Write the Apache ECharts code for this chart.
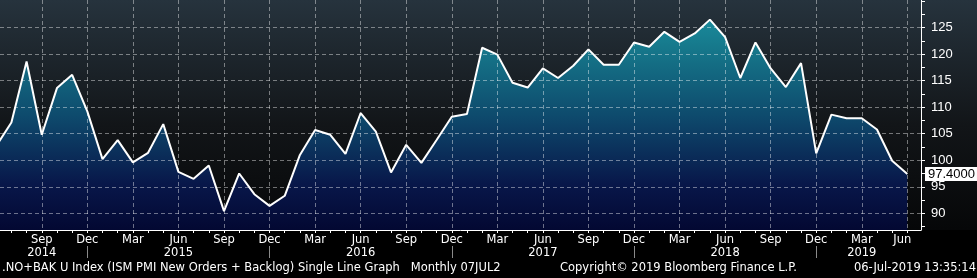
<!DOCTYPE html>
<html><head><meta charset="utf-8">
<script src="https://cdn.jsdelivr.net/npm/echarts@6/dist/echarts.min.js"></script>
<style>html,body{margin:0;padding:0;background:#000;}#c{width:977px;height:278px;}</style>
</head><body><div id="c"></div>
<script>
// ---- data ----
const months = [
 '2014-06','2014-07','2014-08','2014-09','2014-10','2014-11','2014-12',
 '2015-01','2015-02','2015-03','2015-04','2015-05','2015-06','2015-07','2015-08','2015-09','2015-10','2015-11','2015-12',
 '2016-01','2016-02','2016-03','2016-04','2016-05','2016-06','2016-07','2016-08','2016-09','2016-10','2016-11','2016-12',
 '2017-01','2017-02','2017-03','2017-04','2017-05','2017-06','2017-07','2017-08','2017-09','2017-10','2017-11','2017-12',
 '2018-01','2018-02','2018-03','2018-04','2018-05','2018-06','2018-07','2018-08','2018-09','2018-10','2018-11','2018-12',
 '2019-01','2019-02','2019-03','2019-04','2019-05','2019-06'
];
const values = [
 102.7,107.1,118.6,104.8,113.6,116.1,109.2,
 100.2,103.8,99.6,101.4,106.8,97.8,96.5,99.0,90.4,97.5,93.6,91.4,
 93.3,101.0,105.7,104.8,101.2,108.9,105.4,97.7,102.9,99.5,103.8,108.2,
 108.7,121.2,119.9,114.6,113.7,117.3,115.5,117.8,120.9,118.0,118.0,122.2,
 121.4,124.2,122.3,123.9,126.5,123.2,115.5,122.2,117.3,113.8,118.3,101.3,
 108.6,107.9,107.9,105.8,99.9,97.4
];
const yLabelValues = [90,95,100,105,110,115,120,125];
const yTickValues = [87.5,90,92.5,95,97.5,100,102.5,105,107.5,110,112.5,115,117.5,120,122.5,125,127.5,130];
const monthNames = ['Jan','Feb','Mar','Apr','May','Jun','Jul','Aug','Sep','Oct','Nov','Dec'];
const footerLeft = '.NO+BAK U Index (ISM PMI New Orders + Backlog) Single Line Graph   Monthly 07JUL2';
const footerMid = 'Copyright\u00A9 2019 Bloomberg Finance L.P.';
const footerRight = '06-Jul-2019 13:35:14';

// ---- derived ----
const FONT = 'DejaVu Sans';
const NFONT = 'Liberation Sans';
const FS = 11.5;
const X_MIN = 0.25, X_MAX = 60.9, Y_MIN = 86.85, Y_MAX = 130.2;
const idx = months.map((m, i) => i);
const monthOf = i => +months[Math.round(i)].slice(5);
const yearOf = i => +months[Math.round(i)].slice(0, 4);
const monthTicks = idx.filter(i => i >= X_MIN);
const quarterTicks = idx.filter(i => i >= X_MIN && monthOf(i) % 3 === 0);
const decTicks = idx.filter(i => monthOf(i) === 12);
const years = [...new Set(idx.map(yearOf))];
const yearPos = years.map(y => {
  const vis = idx.filter(i => i >= X_MIN && yearOf(i) === y);
  return Math.floor((vis[0] + vis[vis.length - 1]) / 2);
});
const lastIdx = values.length - 1;
const lastVal = values[lastIdx];

const chart = echarts.init(document.getElementById('c'), null, {renderer: 'canvas'});
const gridLine = {show: true, lineStyle: {color: 'rgba(255,255,255,0.42)', width: 1, type: [4, 3]}};
const txt = {color: '#fff', fontFamily: FONT, fontSize: FS};

chart.setOption({
  animation: false,
  backgroundColor: new echarts.graphic.LinearGradient(0, 0, 0, 1, [
    {offset: 0, color: '#26333d'},
    {offset: 0.45, color: '#121518'},
    {offset: 0.826, color: '#060708'},
    {offset: 0.828, color: '#000'},
    {offset: 1, color: '#000'}
  ]),
  grid: {left: 0, right: 56, top: 0, bottom: 48, containLabel: false, outerBoundsMode: 'none'},
  xAxis: [
    {
      type: 'value', min: X_MIN, max: X_MAX, position: 'bottom',
      axisLine: {show: true, onZero: false, lineStyle: {color: '#fff', width: 1}},
      axisTick: {show: true, customValues: monthTicks, length: 3, lineStyle: {color: '#fff'}},
      axisLabel: {
        show: true, customValues: quarterTicks, margin: 4, ...txt,
        formatter: v => Math.round(v) === lastIdx ? '{e|' + monthNames[monthOf(v) - 1] + '}' : monthNames[monthOf(v) - 1],
        rich: {e: {...txt, padding: [0, 10, 0, 0]}}
      },
      splitLine: {show: false}
    },
    {
      type: 'value', min: X_MIN, max: X_MAX, position: 'bottom', z: 5,
      axisLine: {show: false, onZero: false},
      axisTick: {show: false, customValues: quarterTicks},
      axisLabel: {show: true, customValues: yearPos, margin: 17, ...txt, formatter: v => String(yearOf(v))},
      splitLine: gridLine
    },
    {
      type: 'value', min: X_MIN, max: X_MAX, position: 'bottom', offset: 16,
      axisLine: {show: false, onZero: false},
      axisTick: {show: true, customValues: decTicks, length: 12, lineStyle: {color: '#8a8a8a', width: 1}},
      axisLabel: {show: false},
      splitLine: {show: false}
    }
  ],
  yAxis: [
    {
      type: 'value', min: Y_MIN, max: Y_MAX, position: 'right',
      axisLine: {show: true, onZero: false, lineStyle: {color: '#fff', width: 1}},
      axisTick: {show: true, customValues: yTickValues, length: 4, lineStyle: {color: '#fff'}},
      axisLabel: {show: true, customValues: yLabelValues, margin: 10, color: '#fff', fontFamily: NFONT, fontSize: 13},
      splitLine: {show: false}
    },
    {
      type: 'value', min: Y_MIN, max: Y_MAX, position: 'right', z: 5,
      axisLine: {show: false, onZero: false},
      axisTick: {show: false, customValues: yLabelValues},
      axisLabel: {show: false},
      splitLine: gridLine
    },
    {
      type: 'value', min: Y_MIN, max: Y_MAX, position: 'right', z: 6,
      axisLine: {show: false, onZero: false},
      axisTick: {show: false},
      axisLabel: {
        show: true, customValues: [lastVal], margin: 4,
        formatter: v => v.toFixed(4),
        color: '#000', backgroundColor: '#fff', fontFamily: NFONT, fontSize: 13,
        padding: [1, 2, 0, 3]
      },
      splitLine: {show: false}
    }
  ],
  series: [{
    type: 'line', xAxisIndex: 0, yAxisIndex: 0,
    data: values.map((v, i) => [i, v]),
    symbol: 'none', clip: true, z: 2,
    lineStyle: {color: '#fff', width: 2},
    areaStyle: {
      origin: 'start', opacity: 1,
      color: {type: 'linear', x: 0, y: 0, x2: 0, y2: 230, global: true, colorStops: [
        {offset: 0, color: '#1c96a5'},
        {offset: 0.2, color: '#16798c'},
        {offset: 0.5, color: '#0e4b6d'},
        {offset: 0.8, color: '#08174a'},
        {offset: 1, color: '#030832'}
      ]}
    }
  }],
  graphic: [
    {type: 'text', left: 2, top: 262, silent: true, style: {text: footerLeft, fill: '#fff', font: FS + 'px "' + FONT + '"'}},
    {type: 'text', left: 560, top: 262, silent: true, style: {text: footerMid, fill: '#fff', font: FS + 'px "' + FONT + '"'}},
    {type: 'text', right: 1, top: 262, silent: true, style: {text: footerRight, fill: '#fff', font: FS + 'px "' + FONT + '"'}}
  ]
});
</script>
</body></html>
